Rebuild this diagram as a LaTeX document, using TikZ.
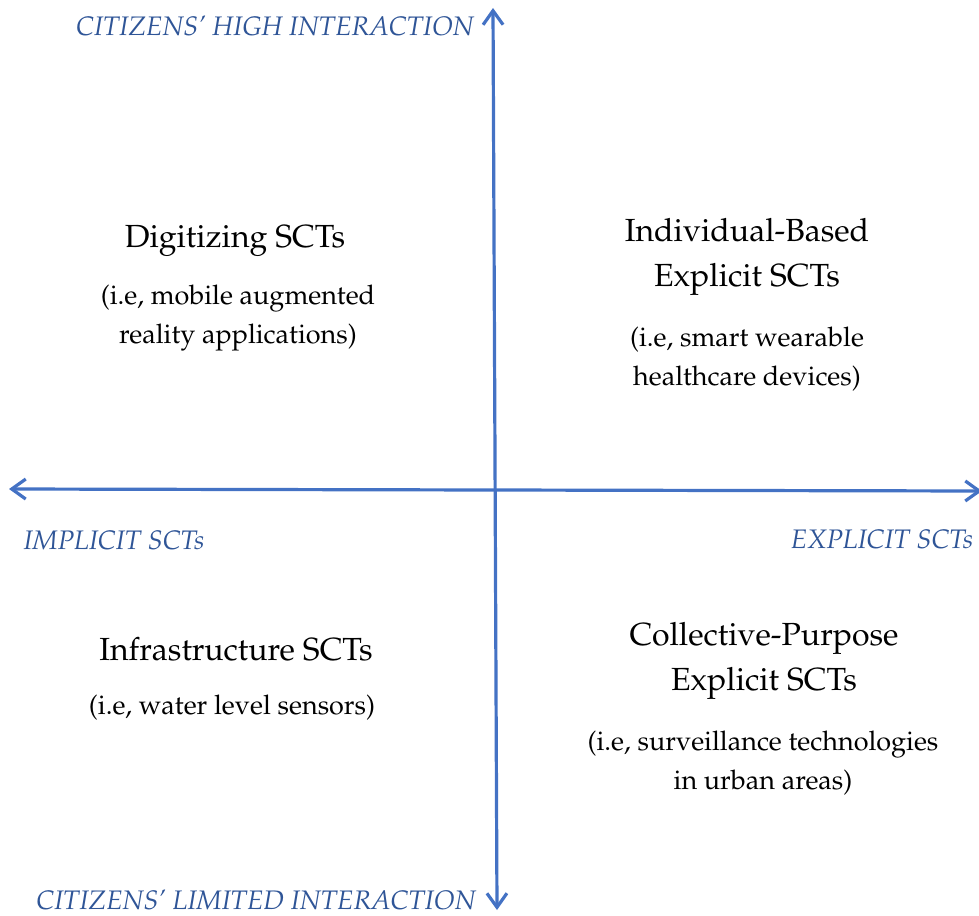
\documentclass[tikz,border=0pt]{standalone}
\usepackage[T1]{fontenc}
\usepackage{mathpazo}
\usetikzlibrary{arrows.meta}
\definecolor{axisblue}{HTML}{4472C4}
\definecolor{labelblue}{HTML}{2F5597}
\tikzset{
  axis/.style={draw=axisblue, line width=3.2pt, {Straight Barb[length=14pt,width=20pt,line width=3.2pt]}-{Straight Barb[length=14pt,width=20pt,line width=3.2pt]}},
  axlabel/.style={text=labelblue, font=\fontsize{26.8}{30}\selectfont\itshape, inner sep=0pt, anchor=base},
  title/.style={font=\fontsize{32}{45}\selectfont, align=center, inner sep=0pt, anchor=center},
  sub/.style={font=\fontsize{27}{39}\selectfont, align=center, inner sep=0pt, anchor=center},
}
\begin{document}
\begin{tikzpicture}[x=1pt,y=-1pt]
\useasboundingbox (0,0) rectangle (979,915);
\coordinate (vb) at (497,910);
\coordinate (vt) at (493,8);
\coordinate (hl) at (9,489);
\coordinate (hr) at (982,491);
\draw[axis] (vb) -- (vt);
\draw[axis] (hl) -- (hr);
\node[axlabel] (top) at (275,36) {CITIZENS' HIGH INTERACTION};
\node[axlabel] (bot) at (256,909) {CITIZENS' LIMITED INTERACTION};
\node[axlabel] (left) at (114,549) {IMPLICIT SCTs};
\node[axlabel] (right) at (882,548) {EXPLICIT SCTs};
\node[title] (q1t) at (235,241) {Digitizing SCTs};
\node[sub] (q1s) at (238,318) {(i.e, mobile augmented\\reality applications)};
\node[title] (q2t) at (747,257) {Individual-Based\\Explicit SCTs};
\node[sub] (q2s) at (747,359) {(i.e, smart wearable\\healthcare devices)};
\node[title] (q3t) at (236,649) {Infrastructure SCTs};
\node[sub] (q3s) at (232,708) {(i.e, water level sensors)};
\node[title] (q4t) at (764,661) {Collective-Purpose\\Explicit SCTs};
\node[sub] (q4s) at (763,763) {(i.e, surveillance technologies\\in urban areas)};
\end{tikzpicture}
\end{document}
